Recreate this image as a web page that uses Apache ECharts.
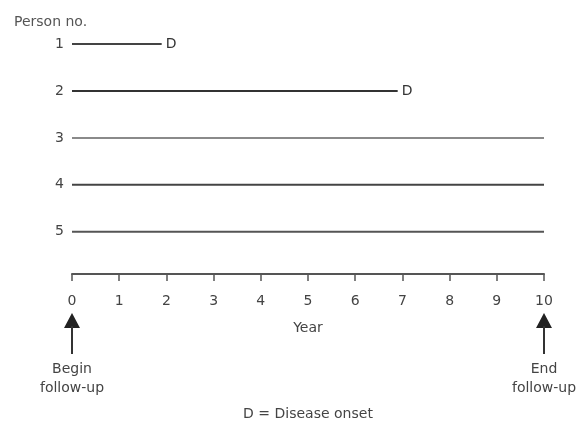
<!DOCTYPE html>
<html><head><meta charset="utf-8">
<script src="https://cdn.jsdelivr.net/npm/echarts@6/dist/echarts.min.js"></script>
<style>html,body{margin:0;padding:0;background:#fff}#c{width:579px;height:424px}</style>
</head><body><div id="c"></div>
<script>
const persons = [1, 2, 3, 4, 5];
const followStart = [0, 0, 0, 0, 0];
const followEnd = [1.9, 6.9, 10, 10, 10];
const diseaseOnset = [true, true, false, false, false];
const lineColors = ['#444', '#333', '#8a8a8a', '#444', '#555'];
const yearTicks = [0, 1, 2, 3, 4, 5, 6, 7, 8, 9, 10];

const font = '"DejaVu Sans", Arial, sans-serif';
const chart = echarts.init(document.getElementById('c'));

const series = persons.map((p, i) => ({
  type: 'line',
  showSymbol: false,
  symbol: 'none',
  silent: true,
  lineStyle: { color: lineColors[i], width: 2 },
  endLabel: {
    show: diseaseOnset[i],
    distance: 4,
    formatter: 'D',
    color: '#333',
    fontSize: 14,
    fontFamily: font
  },
  data: [
    [followStart[i], p],
    [followEnd[i], p]
  ]
}));

chart.setOption({
  animation: false,
  backgroundColor: '#fff',
  title: {
    text: 'Person no.',
    left: 9, top: 10,
    textStyle: { fontSize: 14, fontWeight: 'normal', color: '#555', fontFamily: font }
  },
  grid: { left: 72, right: 35, top: 44, bottom: 150 },
  xAxis: {
    type: 'value',
    min: 0, max: 10, interval: 1,
    name: 'Year',
    nameLocation: 'middle',
    nameGap: 47,
    nameTextStyle: { fontSize: 14, color: '#444', fontFamily: font },
    axisLine: { lineStyle: { color: '#555', width: 2 } },
    axisTick: { length: 7, lineStyle: { color: '#555', width: 1.5 } },
    axisLabel: {
      margin: 20, fontSize: 14, color: '#444', fontFamily: font,
      formatter: v => yearTicks.includes(v) ? String(v) : ''
    },
    splitLine: { show: false }
  },
  yAxis: {
    type: 'value',
    inverse: true,
    min: 1, max: 5.9, interval: 1,
    axisLine: { show: false },
    axisTick: { show: false },
    splitLine: { show: false },
    axisLabel: {
      margin: 8, fontSize: 14, color: '#444', fontFamily: font,
      formatter: v => persons.includes(v) ? String(v) : ''
    }
  },
  series: series
});

function arrowGroup(xVal, labelText) {
  const px = chart.convertToPixel({ xAxisIndex: 0 }, xVal);
  return {
    type: 'group',
    children: [
      { type: 'polygon', shape: { points: [[px, 313], [px - 8, 328], [px + 8, 328]] }, style: { fill: '#222' } },
      { type: 'line', shape: { x1: px, y1: 326, x2: px, y2: 354 }, style: { stroke: '#333', lineWidth: 2 } },
      { type: 'text', x: px, y: 360, style: { text: labelText, align: 'center', verticalAlign: 'top', fontSize: 14, lineHeight: 19, fill: '#444', fontFamily: font } }
    ]
  };
}

chart.setOption({
  graphic: [
    arrowGroup(yearTicks[0], 'Begin\nfollow-up'),
    arrowGroup(yearTicks[yearTicks.length - 1], 'End\nfollow-up'),
    { type: 'text', x: 308, y: 407, style: { text: 'D = Disease onset', align: 'center', verticalAlign: 'top', fontSize: 14, fill: '#444', fontFamily: font } }
  ]
});
</script>
</body></html>
